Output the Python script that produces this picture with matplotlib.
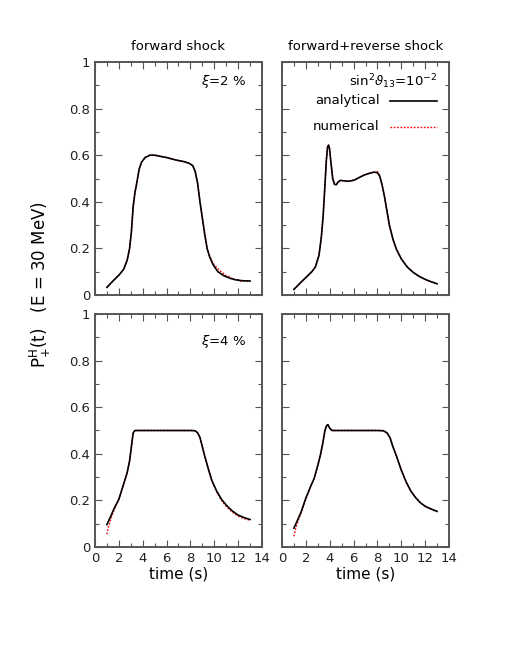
import numpy as np
import matplotlib
matplotlib.use("Agg")
import matplotlib.pyplot as plt
from matplotlib.ticker import MultipleLocator

# forward shock, xi = 2 %
t_fs2 = [1.0, 1.5, 2.0, 2.4, 2.7, 2.9, 3.05, 3.2, 3.35, 3.5, 3.7, 3.9, 4.2, 4.6,
         5.0, 5.5, 6.0, 6.5, 7.0, 7.5, 7.9, 8.2, 8.4, 8.6, 8.8, 9.0, 9.2, 9.4,
         9.6, 9.9, 10.3, 10.8, 11.3, 11.8, 12.4, 13.0]
an_fs2 = [0.033, 0.06, 0.085, 0.11, 0.15, 0.20, 0.27, 0.38, 0.44, 0.48, 0.54, 0.57,
          0.59, 0.60, 0.60, 0.595, 0.59, 0.583, 0.577, 0.572, 0.565, 0.555, 0.53,
          0.48, 0.40, 0.33, 0.26, 0.20, 0.165, 0.13, 0.10, 0.083, 0.072, 0.065,
          0.061, 0.06]
tn_fs2 = [1.0, 1.5, 2.0, 2.4, 2.7, 2.9, 3.05, 3.2, 3.35, 3.5, 3.7, 3.9, 4.2, 4.6,
          5.0, 5.5, 6.0, 6.5, 7.0, 7.5, 7.9, 8.2, 8.4, 8.6, 8.8, 9.0, 9.2, 9.4,
          9.6, 9.8, 10.0, 10.2, 10.4, 10.6, 10.8, 11.0, 11.2, 11.4, 11.6, 11.8,
          12.0, 12.2, 12.4, 12.7, 13.0]
nu_fs2 = [0.033, 0.06, 0.085, 0.11, 0.15, 0.20, 0.27, 0.38, 0.44, 0.48, 0.54, 0.57,
          0.59, 0.60, 0.60, 0.595, 0.59, 0.583, 0.577, 0.572, 0.565, 0.555, 0.53,
          0.48, 0.40, 0.33, 0.26, 0.20, 0.17, 0.145, 0.13, 0.118, 0.108, 0.098,
          0.092, 0.082, 0.08, 0.072, 0.071, 0.064, 0.066, 0.059, 0.062, 0.06, 0.06]

# forward + reverse shock, xi = 2 %
t_fr2 = [1.0, 1.5, 2.0, 2.5, 2.8, 3.1, 3.3, 3.45, 3.6, 3.72, 3.82, 3.9, 3.98, 4.1,
         4.25, 4.4, 4.55, 4.7, 4.9, 5.2, 5.5, 5.8, 6.1, 6.5, 6.9, 7.3, 7.7, 8.0,
         8.2, 8.4, 8.6, 8.8, 9.0, 9.3, 9.6, 10.0, 10.5, 11.0, 11.5, 12.0, 12.5, 13.0]
an_fr2 = [0.024, 0.05, 0.075, 0.10, 0.12, 0.17, 0.25, 0.34, 0.47, 0.58, 0.635, 0.643,
          0.63, 0.57, 0.50, 0.475, 0.473, 0.485, 0.492, 0.49, 0.488, 0.49, 0.494,
          0.505, 0.515, 0.522, 0.527, 0.525, 0.51, 0.47, 0.42, 0.36, 0.30, 0.24,
          0.195, 0.155, 0.12, 0.097, 0.08, 0.067, 0.057, 0.048]
nu_fr2 = [0.024, 0.05, 0.075, 0.10, 0.12, 0.17, 0.25, 0.34, 0.47, 0.58, 0.635, 0.643,
          0.63, 0.57, 0.50, 0.475, 0.473, 0.485, 0.492, 0.49, 0.488, 0.49, 0.494,
          0.505, 0.515, 0.522, 0.528, 0.53, 0.512, 0.47, 0.42, 0.36, 0.30, 0.24,
          0.197, 0.156, 0.121, 0.097, 0.08, 0.067, 0.057, 0.048]

# forward shock, xi = 4 %
t_fs4 = [1.0, 1.3, 1.6, 2.0, 2.4, 2.7, 2.9, 3.05, 3.2, 3.35, 4.0, 5.0, 6.0, 7.0,
         8.0, 8.4, 8.6, 8.8, 9.0, 9.2, 9.5, 9.8, 10.2, 10.6, 11.0, 11.5, 12.0,
         12.5, 13.0]
an_fs4 = [0.096, 0.13, 0.165, 0.205, 0.27, 0.32, 0.37, 0.43, 0.49, 0.50, 0.50, 0.50,
          0.50, 0.50, 0.50, 0.499, 0.49, 0.47, 0.43, 0.39, 0.335, 0.285, 0.24,
          0.205, 0.18, 0.155, 0.137, 0.126, 0.118]
tn_fs4 = [1.0, 1.1, 1.3, 1.6, 2.0, 2.4, 2.7, 2.9, 3.05, 3.2, 3.35, 4.0, 5.0, 6.0,
          7.0, 8.0, 8.4, 8.6, 8.8, 9.0, 9.2, 9.5, 9.8, 10.2, 10.6, 11.0, 11.5,
          12.0, 12.5, 13.0]
nu_fs4 = [0.055, 0.08, 0.115, 0.16, 0.203, 0.27, 0.32, 0.37, 0.43, 0.49, 0.50, 0.50,
          0.50, 0.50, 0.50, 0.50, 0.499, 0.49, 0.47, 0.43, 0.39, 0.335, 0.283,
          0.236, 0.2, 0.174, 0.15, 0.132, 0.122, 0.115]

# forward + reverse shock, xi = 4 %
t_fr4 = [1.0, 1.3, 1.6, 2.0, 2.4, 2.7, 3.0, 3.2, 3.4, 3.6, 3.75, 3.85, 4.0, 4.2,
         5.0, 6.0, 7.0, 8.0, 8.5, 8.8, 9.05, 9.3, 9.6, 10.0, 10.4, 10.8, 11.2,
         11.6, 12.0, 12.5, 13.0]
an_fr4 = [0.081, 0.115, 0.15, 0.21, 0.26, 0.295, 0.35, 0.39, 0.44, 0.50, 0.522,
          0.525, 0.51, 0.50, 0.50, 0.50, 0.50, 0.50, 0.499, 0.49, 0.47, 0.43, 0.39,
          0.33, 0.28, 0.24, 0.212, 0.19, 0.175, 0.163, 0.153]
tn_fr4 = [1.0, 1.15, 1.4, 1.6, 2.0, 2.4, 2.7, 3.0, 3.2, 3.4, 3.6, 3.75, 3.85, 4.0,
          4.2, 5.0, 6.0, 7.0, 8.0, 8.5, 8.8, 9.05, 9.3, 9.6, 10.0, 10.4, 10.8,
          11.2, 11.6, 12.0, 12.5, 13.0]
nu_fr4 = [0.046, 0.08, 0.12, 0.145, 0.205, 0.26, 0.295, 0.35, 0.39, 0.44, 0.50,
          0.522, 0.525, 0.51, 0.50, 0.50, 0.50, 0.50, 0.50, 0.499, 0.49, 0.47,
          0.43, 0.39, 0.33, 0.28, 0.24, 0.212, 0.19, 0.174, 0.162, 0.152]

xticks = [0, 2, 4, 6, 8, 10, 12, 14]
yticks = [0, 0.2, 0.4, 0.6, 0.8, 1]
ytick_labels = ["0", "0.2", "0.4", "0.6", "0.8", "1"]

frame_col = "#555555"
fs = 9.5

fig = plt.figure(figsize=(5.1, 6.6), dpi=100)
W, H = 510, 660


def make_axes(x0, x1, y0, y1):
    return fig.add_axes([x0 / W, 1 - y1 / H, (x1 - x0) / W, (y1 - y0) / H])


ax_tl = make_axes(95, 262, 62, 295)
ax_tr = make_axes(282, 449, 62, 295)
ax_bl = make_axes(95, 262, 314, 547)
ax_br = make_axes(282, 449, 314, 547)

panels = [
    (ax_tl, t_fs2, an_fs2, tn_fs2, nu_fs2),
    (ax_tr, t_fr2, an_fr2, t_fr2, nu_fr2),
    (ax_bl, t_fs4, an_fs4, tn_fs4, nu_fs4),
    (ax_br, t_fr4, an_fr4, tn_fr4, nu_fr4),
]

for ax, ta, ya, tn, yn in panels:
    ax.plot(tn, yn, color="red", linestyle=(0, (1.2, 1.2)), linewidth=1.0)
    ax.plot(ta, ya, color="black", linewidth=1.2)
    ax.set_xlim(0, 14)
    ax.set_ylim(0, 1)
    ax.xaxis.set_major_locator(MultipleLocator(2))
    ax.xaxis.set_minor_locator(MultipleLocator(1))
    ax.yaxis.set_major_locator(MultipleLocator(0.2))
    ax.yaxis.set_minor_locator(MultipleLocator(0.1))
    ax.tick_params(which="both", direction="in", top=True, right=True,
                   color=frame_col, labelsize=fs, labelcolor="#222222")
    ax.tick_params(which="major", length=5, width=0.8)
    ax.tick_params(which="minor", length=3, width=0.8)
    for sp in ax.spines.values():
        sp.set_color(frame_col)
        sp.set_linewidth(1.4)

for ax in [ax_tl, ax_bl]:
    ax.set_yticks(yticks)
    ax.set_yticklabels(ytick_labels)
for ax in [ax_tr, ax_br]:
    ax.tick_params(labelleft=False)
for ax in [ax_tl, ax_tr]:
    ax.tick_params(labelbottom=False)
for ax in [ax_bl, ax_br]:
    ax.set_xticks(xticks)
    ax.set_xticklabels([str(v) for v in xticks])
    ax.set_xlabel("time (s)", fontsize=11, labelpad=1)

ax_tl.set_title("forward shock", fontsize=fs, pad=9)
ax_tr.set_title("forward+reverse shock", fontsize=fs, pad=9)

ax_tl.text(12.7, 0.915, r"$\xi$=2 %", ha="right", va="center", fontsize=fs)
ax_bl.text(12.7, 0.88, r"$\xi$=4 %", ha="right", va="center", fontsize=fs)

ax_tr.text(13.0, 0.915, r"sin$^2\vartheta_{13}$=10$^{-2}$", ha="right",
           va="center", fontsize=fs)
ax_tr.text(8.2, 0.835, "analytical", ha="right", va="center", fontsize=fs)
ax_tr.plot([9.05, 13.0], [0.833, 0.833], color="black", linewidth=1.2)
ax_tr.text(8.2, 0.722, "numerical", ha="right", va="center", fontsize=fs)
ax_tr.plot([9.05, 13.0], [0.72, 0.72], color="red",
           linestyle=(0, (1.2, 1.2)), linewidth=1.0)

fig.text(40 / W, 1 - 285 / H, r"P$^{\rm H}_{+}$(t)   (E = 30 MeV)",
         rotation=90, ha="center", va="center", fontsize=12)

fig.savefig("out.png", dpi=100)
